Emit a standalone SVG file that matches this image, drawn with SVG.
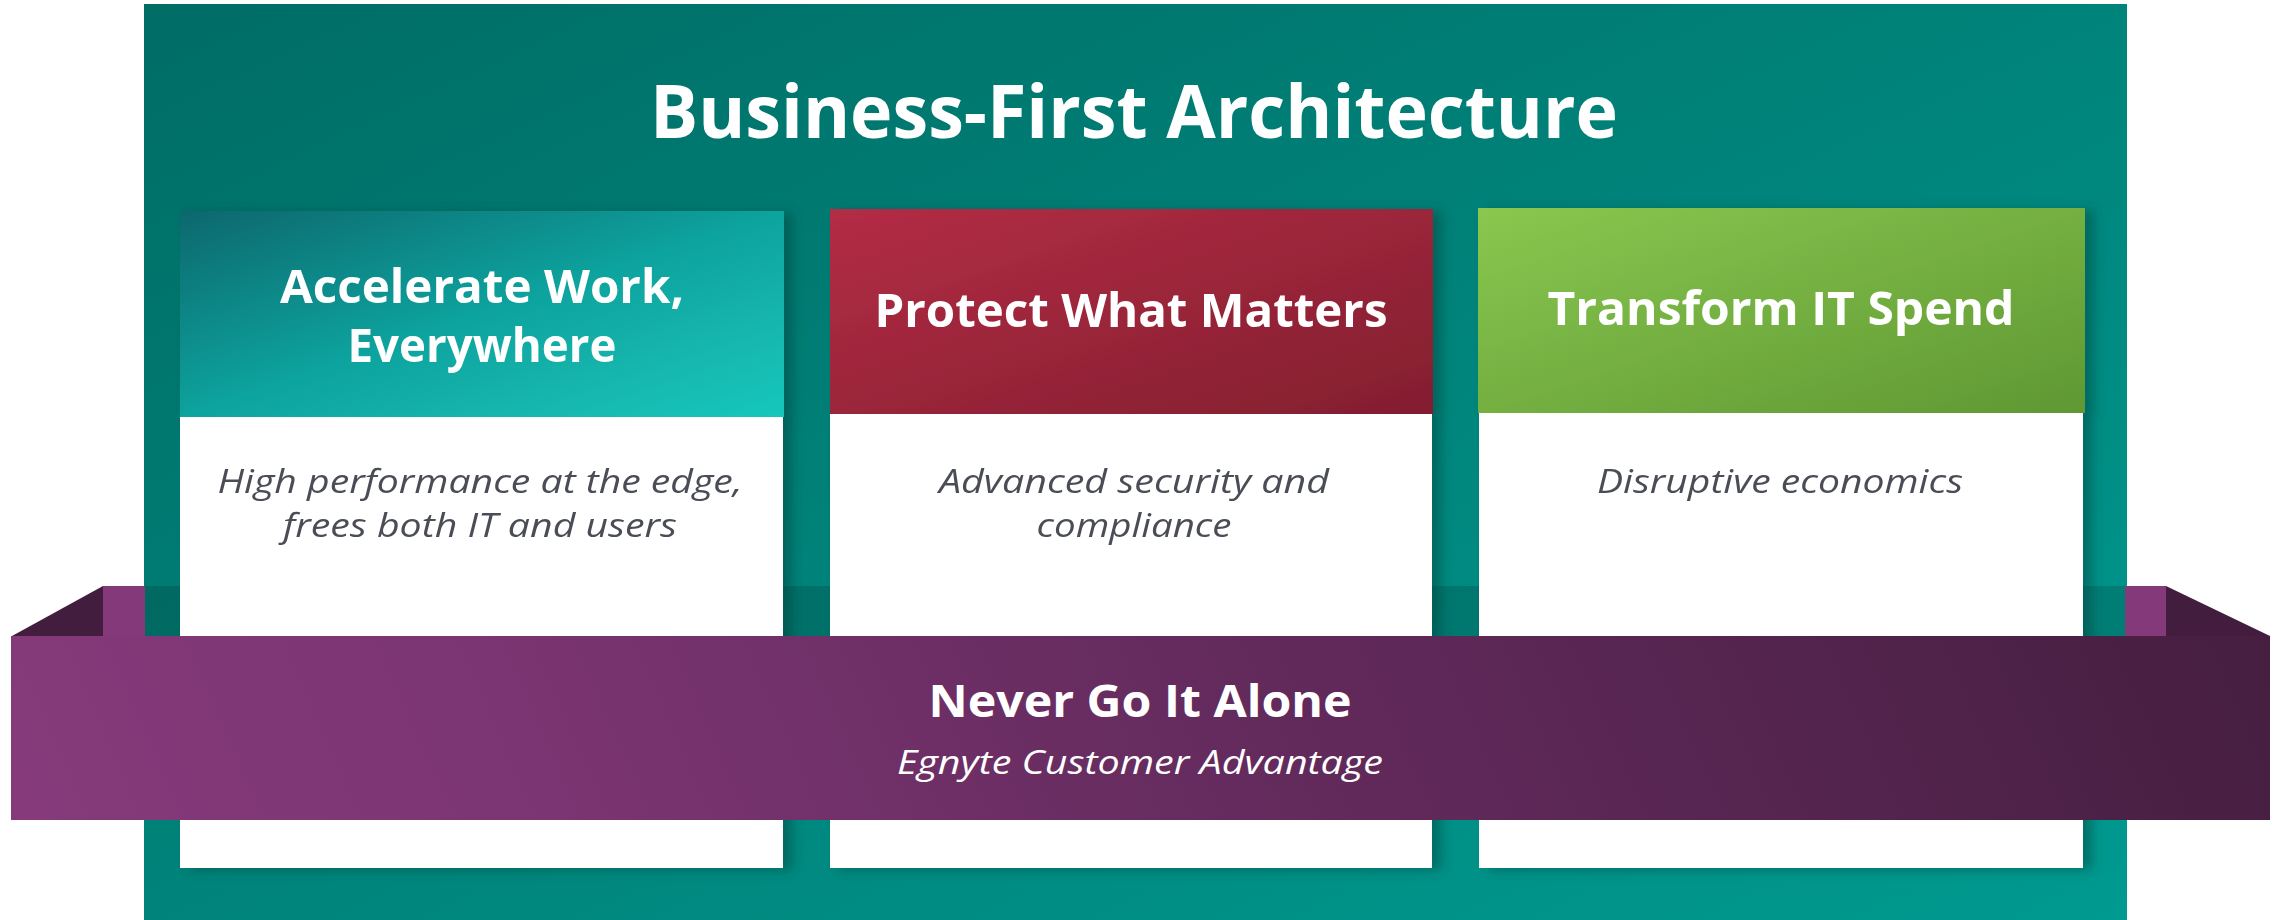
<svg xmlns="http://www.w3.org/2000/svg" width="2279" height="920" viewBox="0 0 2279 920">
  <defs>
    <linearGradient id="bgGrad" x1="0" y1="0" x2="1" y2="1">
      <stop offset="0" stop-color="#006d65"/>
      <stop offset="1" stop-color="#009a90"/>
    </linearGradient>
    <linearGradient id="g1" x1="0" y1="0" x2="1" y2="1">
      <stop offset="0" stop-color="#0f676d"/>
      <stop offset="0.5" stop-color="#11a39e"/>
      <stop offset="1" stop-color="#13c7bb"/>
    </linearGradient>
    <linearGradient id="g2" x1="0" y1="0" x2="1" y2="1">
      <stop offset="0" stop-color="#b32d45"/>
      <stop offset="1" stop-color="#821e2f"/>
    </linearGradient>
    <linearGradient id="g3" x1="0" y1="0" x2="1" y2="1">
      <stop offset="0" stop-color="#89c74f"/>
      <stop offset="1" stop-color="#5f9833"/>
    </linearGradient>
    <linearGradient id="ribbonGrad" gradientUnits="userSpaceOnUse" x1="0" y1="1400" x2="2270" y2="400">
      <stop offset="0.1" stop-color="#863a7b"/>
      <stop offset="0.3" stop-color="#7b3572"/>
      <stop offset="0.55" stop-color="#652b5e"/>
      <stop offset="0.85" stop-color="#4e2249"/>
      <stop offset="1" stop-color="#421d3d"/>
    </linearGradient>
    <filter id="cardShadow" x="-5%" y="-5%" width="115%" height="110%">
      <feDropShadow dx="9" dy="2" stdDeviation="6" flood-color="#00403a" flood-opacity="0.45"/>
    </filter>
    <style>
      .title { font-family: "Open Sans", "Noto Sans", sans-serif; font-weight: bold; fill: #ffffff; }
      .head { font-family: "Open Sans", "Noto Sans", sans-serif; font-weight: bold; fill: #ffffff; font-size: 46px; }
      .body { font-family: "Open Sans", "Noto Sans", sans-serif; font-style: italic; fill: #4b4e56; font-size: 33px; }
      .card { fill: #ffffff; }
      .flap { fill: #431d3e; }
      .flapFace { fill: #843a7a; }
    </style>
  </defs>

  <g id="background">
    <rect x="144" y="4" width="1983" height="916" fill="url(#bgGrad)"/>
    <rect x="144" y="586" width="1983" height="50" fill="#000000" opacity="0.14"/>
  </g>

  <g id="title">
    <text class="title" x="1134" y="138" font-size="74" text-anchor="middle" textLength="968" lengthAdjust="spacingAndGlyphs">Business-First Architecture</text>
  </g>

  <g id="card-accelerate" filter="url(#cardShadow)">
    <rect class="card" x="180" y="417" width="603" height="451"/>
    <rect x="180" y="211" width="604" height="206" fill="url(#g1)"/>
    <text class="head" x="482" y="303" text-anchor="middle" textLength="404" lengthAdjust="spacingAndGlyphs">Accelerate Work,</text>
    <text class="head" x="482" y="362" text-anchor="middle" textLength="269" lengthAdjust="spacingAndGlyphs">Everywhere</text>
    <text class="body" x="480" y="493" text-anchor="middle" textLength="525" lengthAdjust="spacingAndGlyphs">High performance at the edge,</text>
    <text class="body" x="480" y="537" text-anchor="middle" textLength="394" lengthAdjust="spacingAndGlyphs">frees both IT and users</text>
  </g>

  <g id="card-protect" filter="url(#cardShadow)">
    <rect class="card" x="830" y="414" width="602" height="454"/>
    <rect x="830" y="209" width="603" height="205" fill="url(#g2)"/>
    <text class="head" x="1131" y="327" text-anchor="middle" textLength="513" lengthAdjust="spacingAndGlyphs">Protect What Matters</text>
    <text class="body" x="1134" y="493" text-anchor="middle" textLength="390" lengthAdjust="spacingAndGlyphs">Advanced security and</text>
    <text class="body" x="1134" y="537" text-anchor="middle" textLength="195" lengthAdjust="spacingAndGlyphs">compliance</text>
  </g>

  <g id="card-transform" filter="url(#cardShadow)">
    <rect class="card" x="1479" y="413" width="604" height="455"/>
    <rect x="1478" y="208" width="607" height="205" fill="url(#g3)"/>
    <text class="head" x="1781" y="325" text-anchor="middle" textLength="467" lengthAdjust="spacingAndGlyphs">Transform IT Spend</text>
    <text class="body" x="1780" y="493" text-anchor="middle" textLength="366" lengthAdjust="spacingAndGlyphs">Disruptive economics</text>
  </g>

  <g id="ribbon">
    <polygon class="flap" points="12,636 103,586 103,636"/>
    <rect class="flapFace" x="103" y="586" width="42" height="50"/>
    <rect class="flapFace" x="2125" y="586" width="41" height="50"/>
    <polygon class="flap" points="2166,586 2270,636 2166,636"/>
    <rect x="11" y="636" width="2259" height="184" fill="url(#ribbonGrad)"/>
    <text x="1140" y="717" text-anchor="middle" font-family="Open Sans, Noto Sans, sans-serif" font-weight="bold" font-size="44" fill="#ffffff" textLength="423" lengthAdjust="spacingAndGlyphs">Never Go It Alone</text>
    <text x="1140" y="774" text-anchor="middle" font-family="Open Sans, Noto Sans, sans-serif" font-style="italic" font-size="32" fill="#ffffff" textLength="486" lengthAdjust="spacingAndGlyphs">Egnyte Customer Advantage</text>
  </g>
</svg>
